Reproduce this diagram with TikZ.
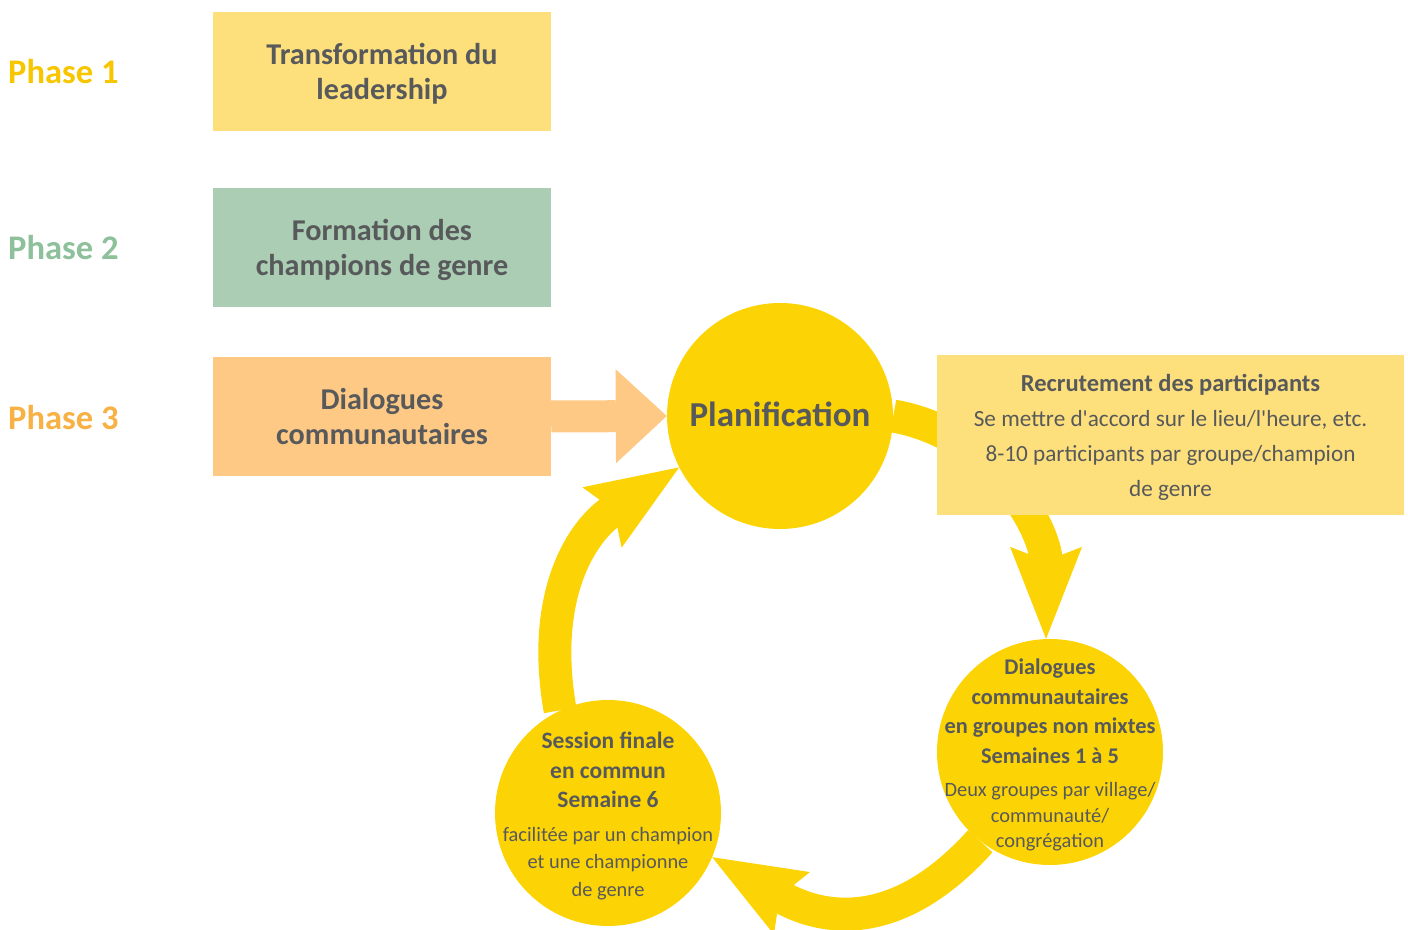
\documentclass[tikz,border=0pt]{standalone}
\usepackage{fontspec}
\setmainfont{Carlito}
\usetikzlibrary{arrows.meta,backgrounds}
\definecolor{phaseone}{HTML}{F8C600}
\definecolor{boxone}{HTML}{FDE07C}
\definecolor{phasetwo}{HTML}{8DC09B}
\definecolor{boxtwo}{HTML}{AACDB3}
\definecolor{phasethree}{HTML}{F7B145}
\definecolor{boxthree}{HTML}{FDC985}
\definecolor{stagefill}{HTML}{FCD405}
\definecolor{darktext}{HTML}{58595B}
\newcommand{\smalltext}{\fontsize{20.4}{24}\selectfont\mdseries}
\begin{document}
\begin{tikzpicture}[
		x=1pt, y=1pt,
		every node/.style={text=darktext},
		phase/.style={anchor=west, inner sep=0pt, font=\fontsize{34.5}{40}\selectfont\bfseries},
		phasebox/.style={minimum width=338pt, minimum height=119pt, inner sep=0pt, text depth=0pt, align=center, font=\fontsize{30.2}{35}\selectfont\bfseries},
		stage/.style={circle, fill=stagefill, minimum size=226pt, inner sep=0pt},
		stagetext/.style={inner sep=0pt, align=center, font=\fontsize{23}{29.5}\selectfont\bfseries},
		stagearrow/.style={draw=stagefill, line width=33pt, -{Stealth[length=92pt, width=72pt, inset=14pt, line width=0pt]}}
		]
		\useasboundingbox (0,0) rectangle (1408,929);
		\node[phase, text=phaseone] (p1) at (8,857) {Phase 1};
		\node[phase, text=phasetwo] (p2) at (8,681) {Phase 2};
		\node[phase, text=phasethree] (p3) at (8,511) {Phase 3};
		\node[phasebox, fill=boxone] (b1) at (382,857.5) {Transformation du\\leadership};
		\node[phasebox, fill=boxtwo] (b2) at (382,681.5) {Formation des\\champions de genre};
		\node[phasebox, fill=boxthree] (b3) at (382,512.5) {Dialogues\\communautaires};
		\node[stage] (plan) at (780,513) {};
		\node[stagetext, font=\fontsize{35}{40}\selectfont\bfseries] (plantext) at ([yshift=2pt]plan.center) {Planification};
		\node[stage] (dlg) at (1050,177) {};
		\node[stagetext, font=\fontsize{22.4}{29.5}\selectfont\bfseries] (dlgtext) at ([yshift=-3pt]dlg.center) {Dialogues\\communautaires\\en groupes non mixtes\\Semaines 1 à 5\\[4pt]\smalltext Deux groupes par village/\\[-4pt]\smalltext communauté/\\[-4pt]\smalltext congrégation};
		\node[stage] (ses) at (608,116) {};
		\node[stagetext, font=\fontsize{23.5}{29.5}\selectfont\bfseries] (sestext) at ([yshift=-3pt]ses.center) {Session finale\\en commun\\Semaine 6\\[4pt]\smalltext facilitée par un champion\\[-2pt]\smalltext et une championne\\[-2pt]\smalltext de genre};
		\begin{scope}[on background layer]
			\draw[boxthree, line width=32pt, -{Triangle[length=51pt, width=94pt, line width=0pt]}] (b3.east) -- (plan.west);
			\draw[stagearrow] (plan.east) to[out=350, in=90] (dlg.92);
			\draw[stagearrow] (dlg.232) to[out=228, in=330, looseness=1.2] (ses.337);
			\draw[stagearrow] (ses.115) to[out=100, in=213, looseness=1.1] (plan.207);
		\end{scope}
		\node[fill=boxone, minimum width=467pt, minimum height=160pt, inner sep=0pt, text depth=0pt, align=center, font=\fontsize{23.2}{35}\selectfont] (rec) at (1170.5,494) {{\fontsize{24.5}{35}\selectfont\bfseries Recrutement des participants}\\Se mettre d\textquotesingle accord sur le lieu/l\textquotesingle heure, etc.\\8-10 participants par groupe/champion\\de genre};
	\end{tikzpicture}
\end{document}
